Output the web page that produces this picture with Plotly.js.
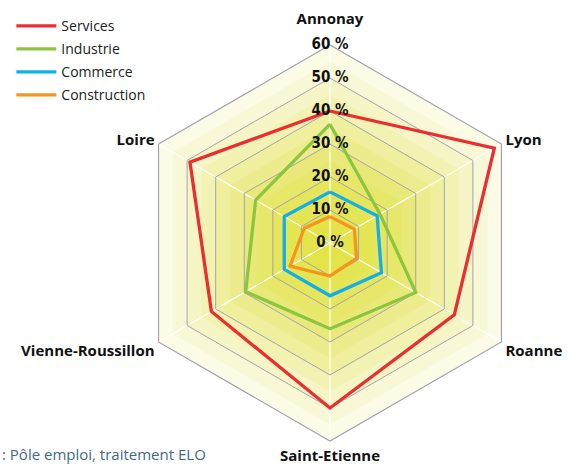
<!DOCTYPE html>
<html>
<head>
<meta charset="utf-8">
<script src="https://cdn.plot.ly/plotly-3.0.1.min.js"></script>
<style>
	html, body { margin: 0; padding: 0; background: #ffffff; }
	#chart { width: 567px; height: 464px; }
</style>
</head>
<body>
<div id="chart"></div>
<script>
	'use strict';

	// Axis categories, clockwise from the top
	const categories = ['Annonay', 'Lyon', 'Roanne', 'Saint-Etienne', 'Vienne-Roussillon', 'Loire'];
	// axis tick labels: the top one is drawn separately, higher up, so it clears "60 %"
	const categoryTickText = ['', 'Lyon', 'Roanne', 'Saint-Etienne', 'Vienne-Roussillon', 'Loire'];

	// Series (% of job offers)
	const services     = [40, 57.5, 43.5, 50, 41.5, 49];
	const industrie    = [36, 17.5, 30, 26, 29.5, 26];
	const commerce     = [15.5, 16.5, 18, 16, 16, 16];
	const construction = [8, 8.5, 9.3, 10, 14, 9];

	// Radial ticks
	const radialTicks = [0, 10, 20, 30, 40, 50, 60];
	const radialTickText = ['0 %', '10 %', '20 %', '30 %', '40 %', '50 %', '60 %'];

	// yellow "glow" bands behind the grid (outer -> inner)
	const bandLevels = [60, 55, 50, 45, 40, 35, 30, 25, 20, 15, 10, 5];
	const bandColors = ['#fbfbe6', '#f8f8d6', '#f5f5c6', '#f2f2b2', '#efef9e', '#ecec8c',
		'#e9e97a', '#e7e76a', '#e5e65c', '#e4e552', '#e3e44a', '#e2e345'];

	const font = '"Open Sans", "Liberation Sans", sans-serif';
	const labelFont = { family: font, size: 15, color: '#111111', weight: 'bold' };

	// close the polygon
	const closed = ( arr ) => arr.concat( arr[0] );
	const theta = closed( categories );
	const rMax = radialTicks[ radialTicks.length - 1 ];

	const data = [];

	/*
	3 stacked polar subplots on the same domain:
	polar  - yellow bands (no grid)
	polar2 - hexagon grid + series
	polar3 - labels on top (circular, so the centre "0 %" isn't culled)
	*/

	bandLevels.forEach(( lvl, i ) => {
		data.push({
			type: 'scatterpolar',
			subplot: 'polar',
			r: closed( categories.map(() => lvl )),
			theta,
			mode: 'lines',
			fill: 'toself',
			fillcolor: bandColors[i],
			line: { width: 0, color: bandColors[i] },
			hoverinfo: 'skip',
			showlegend: false,
		});
	});

	const series = [
		{ name: 'Services', values: services, color: '#ec2d2f' },
		{ name: 'Industrie', values: industrie, color: '#8cc63f' },
		{ name: 'Commerce', values: commerce, color: '#12aee8' },
		{ name: 'Construction', values: construction, color: '#f7941d' },
	];

	series.forEach(( s ) => {
		data.push({
			type: 'scatterpolar',
			subplot: 'polar2',
			name: s.name,
			legendgroup: s.name,
			r: closed( s.values ),
			theta,
			mode: 'lines',
			line: { color: s.color, width: 3.3 },
			hovertemplate: s.name + ' %{theta}: %{r} %<extra></extra>',
		});
	});

	// radial tick labels, centred on the top spoke
	data.push({
		type: 'scatterpolar',
		subplot: 'polar3',
		r: radialTicks,
		theta: radialTicks.map(() => categories[0] ),
		mode: 'text',
		text: radialTickText,
		textposition: 'middle center',
		cliponaxis: false,
		textfont: { family: '"DejaVu Sans Condensed", "Liberation Sans Narrow", sans-serif', size: 15, color: '#111111', weight: 'bold' },
		hoverinfo: 'skip',
		showlegend: false,
	});

	// top category label (above the "60 %" tick)
	data.push({
		type: 'scatterpolar',
		subplot: 'polar3',
		r: [ rMax ],
		theta: [ categories[0] ],
		mode: 'markers+text',
		marker: { size: 26, color: 'rgba(0,0,0,0)' },
		text: [ categories[0] ],
		textposition: 'top center',
		cliponaxis: false,
		textfont: labelFont,
		hoverinfo: 'skip',
		showlegend: false,
	});

	const domain = { x: [0.2328, 0.9312], y: [0.0496, 0.903] };

	const hiddenAngular = {
		visible: false,
		type: 'category',
		categoryarray: categories,
		rotation: 90,
		direction: 'clockwise',
	};

	const layout = {
		width: 567,
		height: 464,
		margin: { l: 0, r: 0, t: 0, b: 0 },
		paper_bgcolor: '#ffffff',
		showlegend: true,
		legend: {
			x: 0.02, y: 0.978,
			xanchor: 'left', yanchor: 'top',
			bgcolor: 'rgba(0,0,0,0)',
			font: { family: font, size: 14, color: '#222222' },
			tracegroupgap: 1.8,
			itemwidth: 40,
		},
		polar: {
			domain,
			bgcolor: 'rgba(0,0,0,0)',
			gridshape: 'linear',
			radialaxis: { range: [0, rMax], visible: false },
			angularaxis: hiddenAngular,
		},
		polar2: {
			domain,
			bgcolor: 'rgba(0,0,0,0)',
			gridshape: 'linear',
			radialaxis: {
				range: [0, rMax],
				tickvals: radialTicks,
				showticklabels: false,
				ticks: '',
				showline: false,
				gridcolor: '#a3a3b0',
				gridwidth: 1,
			},
			angularaxis: {
				type: 'category',
				categoryarray: categories,
				tickvals: categories,
				ticktext: categoryTickText,
				rotation: 90,
				direction: 'clockwise',
				gridcolor: '#ffffff',
				gridwidth: 1.2,
				showline: true,
				linecolor: '#a3a3b0',
				linewidth: 1.2,
				ticks: 'outside',
				ticklen: 1,
				tickcolor: 'rgba(0,0,0,0)',
				tickfont: labelFont,
			},
		},
		polar3: {
			domain,
			bgcolor: 'rgba(0,0,0,0)',
			// tiny negative floor so the centre label is inside the range
			radialaxis: { range: [-0.05, rMax], visible: false },
			angularaxis: hiddenAngular,
		},
		annotations: [{
			xref: 'paper', yref: 'paper',
			x: 0, y: 0.022,
			xanchor: 'left', yanchor: 'middle',
			showarrow: false,
			text: ': Pôle emploi, traitement ELO',
			font: { family: font, size: 15, color: '#3f6a8a' },
		}],
	};

	Plotly.newPlot('chart', data, layout, { displayModeBar: false, staticPlot: true });
</script>
</body>
</html>
